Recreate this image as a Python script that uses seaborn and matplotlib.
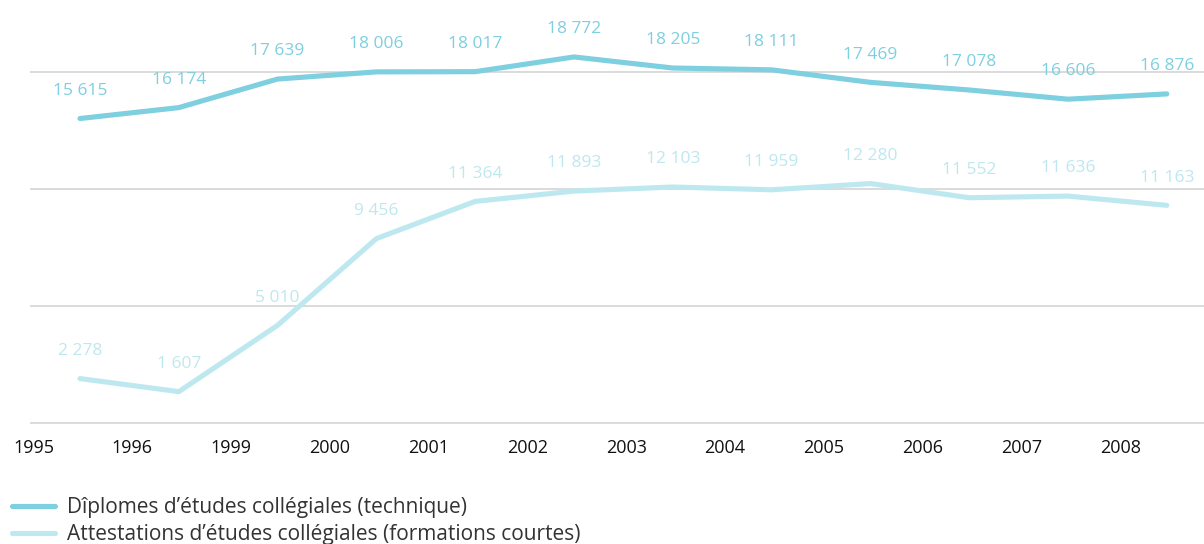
import matplotlib
matplotlib.use("Agg")
import matplotlib.pyplot as plt
import numpy as np
import pandas as pd
import seaborn as sns

# ---- data ----
years = ["1995", "1996", "1999", "2000", "2001", "2002", "2003",
         "2004", "2005", "2006", "2007", "2008"]
dec_values = [15615, 16174, 17639, 18006, 18017, 18772, 18205,
              18111, 17469, 17078, 16606, 16876]
aec_values = [2278, 1607, 5010, 9456, 11364, 11893, 12103,
              11959, 12280, 11552, 11636, 11163]
series_names = ["Dîplomes d’études collégiales (technique)",
                "Attestations d’études collégiales (formations courtes)"]
grid_values = [0, 6000, 12000, 18000]

colors = ["#7ecfdf", "#bee8ef"]

sns.set_theme(style="white")
plt.rcParams['font.family'] = ['Open Sans', 'DejaVu Sans']

n = len(years)
idx = list(range(n))
df = pd.DataFrame({
    "idx": idx * 2,
    "value": dec_values + aec_values,
    "series": [series_names[0]] * n + [series_names[1]] * n,
})

W, H = 1204, 544
fig = plt.figure(figsize=(W / 100, H / 100), dpi=100)
ax = fig.add_axes([30 / W, 1 - 424 / H, (W - 30) / W, 424 / H])

sns.lineplot(data=df, x="idx", y="value", hue="series", hue_order=series_names,
             palette=colors, linewidth=3.7, ax=ax, legend=False, sort=False)
for ln in ax.lines:
    ln.set_solid_capstyle("round")
    ln.set_solid_joinstyle("round")

# value labels
def fmt(v):
    return f"{v:,}".replace(",", " ")

for vals, col in zip([dec_values, aec_values], colors):
    for i, v in enumerate(vals):
        ax.annotate(fmt(v), (i, v), xytext=(0, 20), textcoords="offset points",
                    ha="center", va="center", fontsize=12.5, color=col,
                    fontweight="normal")

# scales
slope = 0.0195  # px per unit
base = 423
ax.set_ylim(-(424 - base) / slope, base / slope)
ax.set_xlim(-50 / 98.8, (W - 80) / 98.8)
ax.set_yticks(grid_values)
ax.set_yticklabels([])
ax.set_xticks([i - 0.47 for i in idx])
ax.set_xticklabels(years, fontsize=13, color="#111111")
ax.tick_params(axis="both", length=0)
ax.tick_params(axis="x", pad=11)
ax.grid(axis="y", color="#d4d4d4", linewidth=1.2)
ax.grid(axis="x", visible=False)
ax.set_axisbelow(True)
for s in ax.spines.values():
    s.set_visible(False)
ax.set_xlabel("")
ax.set_ylabel("")

handles = ax.lines[:2]
fig.legend(handles, series_names, loc="upper left",
           bbox_to_anchor=(12 / W, 1 - 497 / H), bbox_transform=fig.transFigure,
           frameon=False, fontsize=15, handlelength=2.05, handletextpad=0.6,
           labelspacing=0.28, borderpad=0, borderaxespad=0, labelcolor="#333333")

fig.savefig("out.png", dpi=100)
